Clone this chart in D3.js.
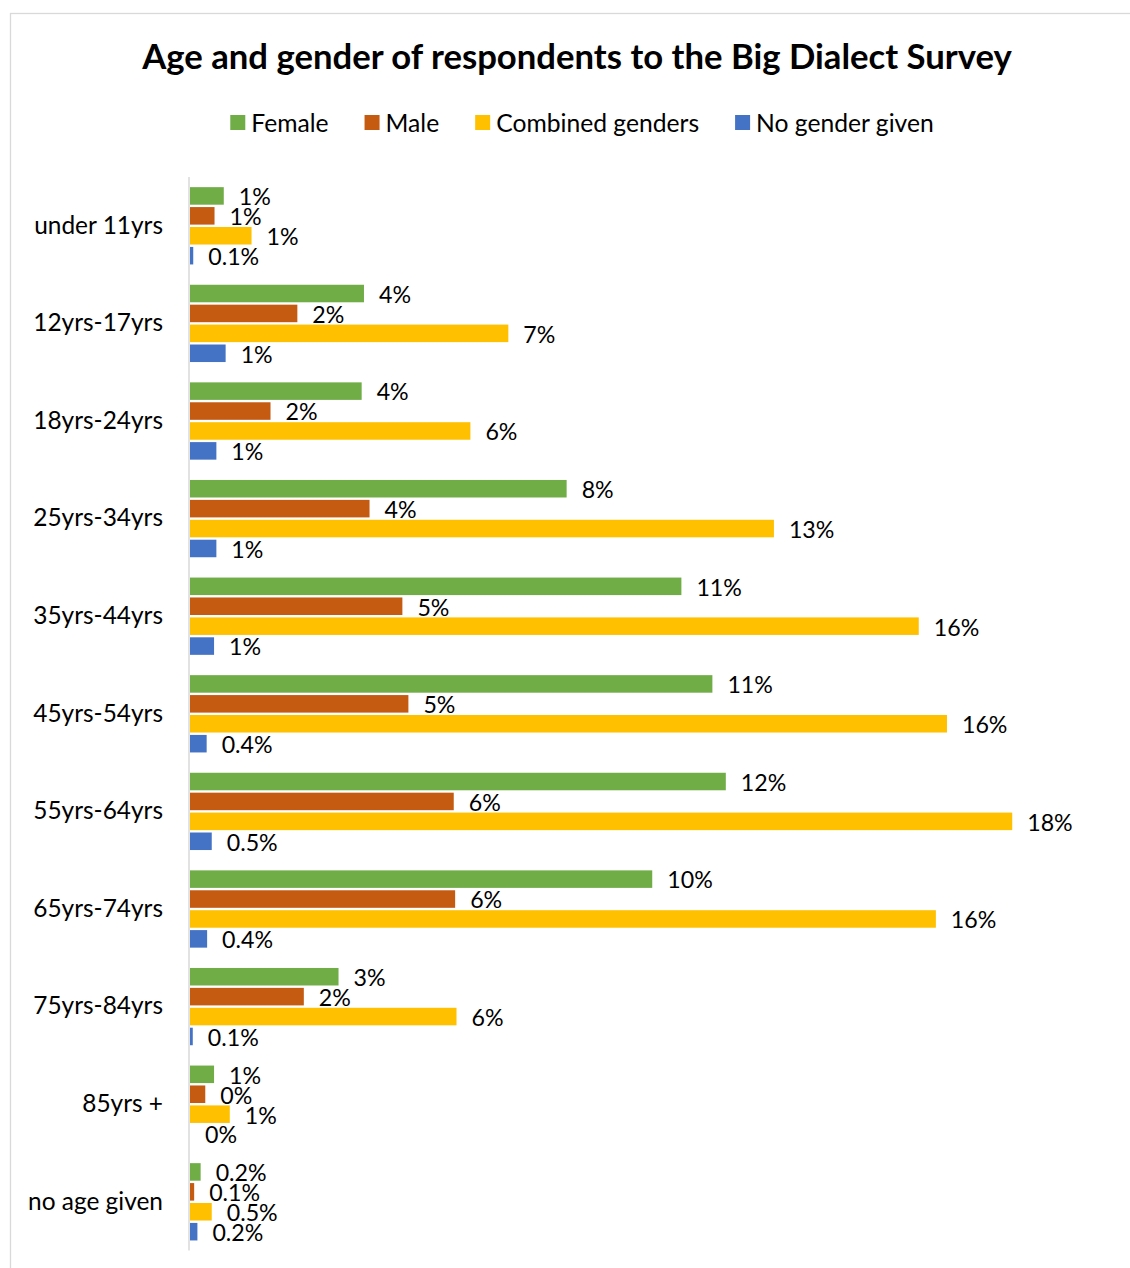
<!DOCTYPE html>
<html><head><meta charset="utf-8">
<script src="https://cdn.jsdelivr.net/npm/d3@7"></script>
<style>
html,body{margin:0;padding:0;background:#fff;}
svg{display:block;}
text{font-family:Lato,"Open Sans","Noto Sans",sans-serif;fill:#000;}
</style></head>
<body>
<svg id="chart" width="1130" height="1268"></svg>
<script>
const title = "Age and gender of respondents to the Big Dialect Survey";
const categories = ["under 11yrs","12yrs-17yrs","18yrs-24yrs","25yrs-34yrs","35yrs-44yrs","45yrs-54yrs","55yrs-64yrs","65yrs-74yrs","75yrs-84yrs","85yrs +","no age given"];
const seriesNames = ["Female","Male","Combined genders","No gender given"];
const seriesColors = ["#70AD47","#C55A11","#FFC000","#4472C4"];
const female   = [0.73,3.76,3.71,8.14,10.62,11.29,11.58,9.99,3.21,0.52,0.23];
const male     = [0.53,2.32,1.74,3.88,4.59,4.72,5.70,5.73,2.46,0.33,0.09];
const combined = [1.33,6.88,6.06,12.62,15.75,16.36,17.77,16.12,5.76,0.86,0.47];
const noGender = [0.07,0.77,0.57,0.57,0.52,0.36,0.47,0.37,0.06,0.0,0.16];
const femaleLabels   = ["1%","4%","4%","8%","11%","11%","12%","10%","3%","1%","0.2%"];
const maleLabels     = ["1%","2%","2%","4%","5%","5%","6%","6%","2%","0%","0.1%"];
const combinedLabels = ["1%","7%","6%","13%","16%","16%","18%","16%","6%","1%","0.5%"];
const noGenderLabels = ["0.1%","1%","1%","1%","1%","0.4%","0.5%","0.4%","0.1%","0%","0.2%"];

const seriesValues = [female, male, combined, noGender];
const seriesLabels = [femaleLabels, maleLabels, combinedLabels, noGenderLabels];

const svg = d3.select("#chart");

function fitSize(sample, weight, target){
  const t = svg.append("text").attr("font-size",100).attr("font-weight",weight).text(sample);
  const w = t.node().getComputedTextLength();
  t.remove();
  return 100*target/w;
}
const titleSize = fitSize(title, "bold", 870);
const legendSize = fitSize("Combined genders", "normal", 203);
const catSize = fitSize("no age given", "normal", 135);
const labelSize = fitSize("0.1%", "normal", 51);

svg.append("rect").attr("x",10.5).attr("y",13.5).attr("width",1300).attr("height",1400)
  .attr("fill","#fff").attr("stroke","#d9d9d9").attr("stroke-width",1.3);

svg.append("text").attr("x",577).attr("y",69).attr("text-anchor","middle")
  .attr("font-weight","bold").attr("font-size",titleSize).text(title);

const x = d3.scaleLinear().domain([0,20]).range([190, 190+925.4]);
const y0 = d3.scaleBand().domain(categories).range([177, 1250.6]).paddingInner(0.2).paddingOuter(0.1);
const y1 = d3.scaleBand().domain(d3.range(4)).range([0, y0.bandwidth()]).paddingInner(0.12).paddingOuter(0.02);

const axis = svg.append("g").attr("transform","translate(189,0)")
  .call(d3.axisLeft(y0).tickSizeInner(0).tickSizeOuter(0).tickPadding(26));
axis.select(".domain").attr("stroke","#d9d9d9").attr("stroke-width",1.5)
  .attr("d","M0,177V1250.6");
axis.selectAll(".tick text").attr("font-size",catSize).attr("fill","#000")
  .style("font-family",'Lato,"Open Sans","Noto Sans",sans-serif');

const groups = svg.append("g").selectAll("g").data(categories).join("g")
  .attr("transform", d => `translate(0,${y0(d)})`);
groups.each(function(cat, ci){
  const g = d3.select(this);
  const rows = seriesValues.map((vals, si) => ({si, v: vals[ci], label: seriesLabels[si][ci]}));
  g.selectAll("rect").data(rows.filter(d => d.v > 0)).join("rect")
    .attr("x", x(0))
    .attr("y", d => y1(d.si))
    .attr("width", d => x(d.v) - x(0))
    .attr("height", y1.bandwidth())
    .attr("fill", d => seriesColors[d.si]);
  g.selectAll("text").data(rows).join("text")
    .attr("x", d => x(d.v) + 15)
    .attr("y", d => y1(d.si) + y1.bandwidth()/2 + 1)
    .attr("dy","0.36em")
    .attr("font-size", labelSize)
    .text(d => d.label);
});

const legend = svg.append("g");
const legendItems = legend.selectAll("g").data(seriesNames).join("g");
legendItems.append("rect").attr("width",15).attr("height",15).attr("y",-8)
  .attr("fill",(d,i)=>seriesColors[i]);
legendItems.append("text").attr("x",21).attr("y",0).attr("dy","0.35em")
  .attr("font-size",legendSize).text(d=>d);
let widths = [];
legendItems.each(function(){ widths.push(21 + d3.select(this).select("text").node().getComputedTextLength()); });
const gap = 36;
const total = d3.sum(widths) + gap*(widths.length-1);
let cx = 582 - total/2;
legendItems.attr("transform",(d,i)=>{ const t=`translate(${cx},123)`; cx += widths[i]+gap; return t; });
</script>
</body></html>
